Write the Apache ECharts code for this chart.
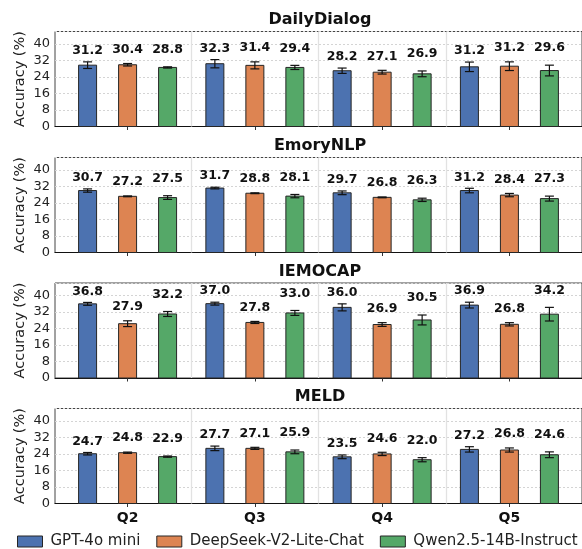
<!DOCTYPE html>
<html>
<head>
<meta charset="utf-8">
<script src="https://cdn.jsdelivr.net/npm/echarts@6/dist/echarts.min.js"></script>
<style>
html,body{margin:0;padding:0;background:#fff;}
#chart{width:582px;height:549px;}
</style>
</head>
<body>
<div id="chart"></div>
<script>
// ---------- data ----------
const categories = ['Q2', 'Q3', 'Q4', 'Q5'];
const models = ['GPT-4o mini', 'DeepSeek-V2-Lite-Chat', 'Qwen2.5-14B-Instruct'];
const datasets = ['DailyDialog', 'EmoryNLP', 'IEMOCAP', 'MELD'];
const yTicks = [0, 8, 16, 24, 32, 40];

// rows: GPT-4o mini, DeepSeek-V2-Lite-Chat, Qwen2.5-14B-Instruct ; cols: Q2..Q5
const dailyMean  = [[29.7, 30.4, 27.0, 28.9], [29.9, 29.6, 26.3, 29.2], [28.6, 28.6, 25.5, 27.1]];
const dailyErr   = [[1.6, 2.0, 1.3, 2.3], [0.6, 1.7, 0.9, 2.1], [0.3, 1.0, 1.4, 2.6]];
const dailyLabel = [[31.2, 32.3, 28.2, 31.2], [30.4, 31.4, 27.1, 31.2], [28.8, 29.4, 26.9, 29.6]];

const emoryMean  = [[30.0, 31.2, 28.9, 30.0], [27.2, 28.7, 26.7, 27.8], [26.6, 27.3, 25.5, 26.1]];
const emoryErr   = [[0.8, 0.4, 0.9, 1.1], [0.2, 0.2, 0.2, 0.8], [0.9, 0.8, 0.8, 1.2]];
const emoryLabel = [[30.7, 31.7, 29.7, 31.2], [27.2, 28.8, 26.8, 28.4], [27.5, 28.1, 26.3, 27.3]];

const iemoMean   = [[35.9, 36.0, 34.2, 35.3], [26.3, 26.9, 25.9, 26.0], [31.0, 31.5, 28.1, 30.9]];
const iemoErr    = [[0.7, 0.7, 1.7, 1.4], [1.4, 0.5, 0.9, 0.8], [1.2, 1.2, 2.4, 3.3]];
const iemoLabel  = [[36.8, 37.0, 36.0, 36.9], [27.9, 27.8, 26.9, 26.8], [32.2, 33.0, 30.5, 34.2]];

const meldMean   = [[24.1, 26.7, 22.6, 26.2], [24.6, 26.7, 24.0, 25.9], [22.7, 25.0, 21.2, 23.6]];
const meldErr    = [[0.6, 1.1, 0.9, 1.3], [0.3, 0.5, 0.8, 1.0], [0.3, 0.9, 1.0, 1.4]];
const meldLabel  = [[24.7, 27.7, 23.5, 27.2], [24.8, 27.1, 24.6, 26.8], [22.9, 25.9, 22.0, 24.6]];

const panelMeans  = [dailyMean, emoryMean, iemoMean, meldMean];
const panelErrs   = [dailyErr, emoryErr, iemoErr, meldErr];
const panelLabels = [dailyLabel, emoryLabel, iemoLabel, meldLabel];

// ---------- style ----------
const FONT = '"DejaVu Sans", sans-serif';
const colors = ['#4C72B0', '#DD8452', '#55A868'];
const panelTops = [31.5, 157.5, 283, 408.5];
const panelH = 95;
const gridLeft = 55;
const gridW = 530;
const barW = 18;
const barStep = 40;

const chart = echarts.init(document.getElementById('chart'), null, {renderer: 'canvas'});

function makeRender(s) {
  return function (params, api) {
    const cat = api.value(0);
    const mean = api.value(1);
    const err = api.value(2);
    const lab = api.value(3);
    const base = api.coord([cat, 0]);
    const top = api.coord([cat, mean]);
    const hi = api.coord([cat, mean + err]);
    const lo = api.coord([cat, mean - err]);
    const cx = base[0] + (s - 1) * barStep;
    const cap = 4.5;
    return {
      type: 'group',
      children: [
        {type: 'rect', shape: {x: cx - barW / 2, y: top[1], width: barW, height: base[1] - top[1]},
         style: {fill: colors[s], stroke: '#262626', lineWidth: 1}},
        {type: 'line', shape: {x1: cx, y1: lo[1], x2: cx, y2: hi[1]}, style: {stroke: '#111', lineWidth: 1.2}},
        {type: 'line', shape: {x1: cx - cap, y1: lo[1], x2: cx + cap, y2: lo[1]}, style: {stroke: '#111', lineWidth: 1.2}},
        {type: 'line', shape: {x1: cx - cap, y1: hi[1], x2: cx + cap, y2: hi[1]}, style: {stroke: '#111', lineWidth: 1.2}},
        {type: 'text', x: cx, y: hi[1] - (11 + 3 * s),
         style: {text: lab.toFixed(1), align: 'center', verticalAlign: 'middle',
                 font: 'bold 12.5px ' + FONT, fill: '#111'}}
      ]
    };
  };
}

const grids = [], xAxes = [], yAxes = [], series = [], graphics = [];
datasets.forEach((name, p) => {
  grids.push({left: gridLeft, top: panelTops[p], width: gridW, height: panelH,
              show: true, borderColor: '#444', borderWidth: 1, containLabel: false});
  xAxes.push({
    type: 'value', gridIndex: p, min: -0.5703, max: 3.5703,
    axisLine: {show: true, lineStyle: {color: '#111', width: 1.2}},
    axisTick: {show: true, customValues: [0, 1, 2, 3], length: 3.5, lineStyle: {color: '#333'}},
    axisLabel: {show: p === datasets.length - 1, customValues: [0, 1, 2, 3],
                formatter: v => categories[Math.round(v)] || '',
                fontFamily: FONT, fontSize: 14, fontWeight: 'bold', color: '#111', margin: 8},
    splitLine: {show: false}
  });
  yAxes.push({
    type: 'value', gridIndex: p, min: 0, max: 46, interval: 8,
    name: 'Accuracy (%)', nameLocation: 'middle', nameGap: 27, nameMoveOverlap: false,
    nameTextStyle: {fontFamily: FONT, fontSize: 14.5, color: '#222'},
    axisLine: {show: false}, axisTick: {show: false},
    axisLabel: {fontFamily: FONT, fontSize: 13, color: '#222', margin: 5, showMaxLabel: false,
                formatter: v => (yTicks.indexOf(v) >= 0 ? String(v) : '')},
    splitLine: {show: true, lineStyle: {color: '#d4d4d4', type: [2, 2], width: 1}}
  });
  models.forEach((m, s) => {
    const ser = {
      type: 'custom', name: m, xAxisIndex: p, yAxisIndex: p,
      itemStyle: {color: colors[s], borderColor: '#262626', borderWidth: 1},
      renderItem: makeRender(s),
      encode: {x: 0, y: 1},
      data: categories.map((c, i) => [i, panelMeans[p][s][i], panelErrs[p][s][i], panelLabels[p][s][i]]),
      z: 3
    };
    if (s === 0) {
      ser.markLine = {
        silent: true, symbol: 'none', label: {show: false}, z: 1,
        lineStyle: {color: '#e2e2e2', type: 'solid', width: 1.3},
        data: [{xAxis: 0.5}, {xAxis: 1.5}, {xAxis: 2.5}]
      };
    }
    series.push(ser);
  });
  graphics.push({
    type: 'text', x: gridLeft + gridW / 2, y: panelTops[p] - 11.5,
    style: {text: name, align: 'center', verticalAlign: 'middle',
            font: 'bold 16px ' + FONT, fill: '#111'}
  });
});

chart.setOption({
  animation: false,
  backgroundColor: '#fff',
  grid: grids,
  xAxis: xAxes,
  yAxis: yAxes,
  series: series,
  graphic: graphics,
  legend: {
    data: models.map(m => ({name: m, icon: 'rect'})),
    left: 17, top: 534, padding: 0,
    itemWidth: 25, itemHeight: 11, itemGap: 16,
    itemStyle: {borderColor: '#262626', borderWidth: 1},
    textStyle: {fontFamily: FONT, fontSize: 15, color: '#222', padding: [0, 0, 0, 3]},
    selectedMode: false
  }
});
</script>
</body>
</html>
